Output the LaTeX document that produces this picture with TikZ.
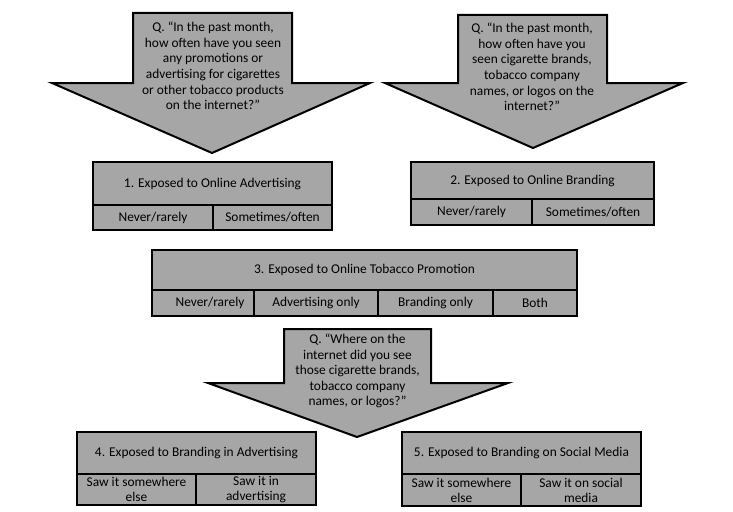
\documentclass[tikz,border=0pt]{standalone}
\usepackage{fontspec}
\setmainfont{Carlito}
\usepackage{tikz}
\usetikzlibrary{positioning}
\definecolor{BoxGray}{RGB}{166,166,166}

\begin{document}
\begin{tikzpicture}[x=1pt, y=-1pt,
          qarrow/.style={draw=black, line width=2pt, fill=BoxGray, line join=miter},
          qtext/.style={font=\fontsize{13.4}{15.6}\selectfont, align=center, inner sep=0pt},
          title/.style={draw=black, line width=2pt, fill=BoxGray, outer sep=0pt, inner sep=1pt,
                        font=\fontsize{13.4}{15}\selectfont, align=center, anchor=north west},
          cell/.style={title, anchor=north west}
        ]
        \useasboundingbox (0,0) rectangle (733,511);

        % Question arrow for advertising
        \draw[qarrow] (133,13) -- (292,13) -- (292,83) -- (370,83) -- (212,153)
              -- (52,83) -- (133,83) -- cycle;
        \node[qtext] (q1) at (213,66)
              {Q. “In the past month,\\how often have you seen\\any promotions or\\advertising for cigarettes\\or other tobacco products\\on the internet?”};

        % Question arrow for branding
        \draw[qarrow] (458,15) -- (607,15) -- (607,83) -- (683,83) -- (533,148)
              -- (385,83) -- (458,83) -- cycle;
        \node[qtext] (q2) at (532,67)
              {Q. “In the past month,\\how often have you\\seen cigarette brands,\\tobacco company\\names, or logos on the\\internet?”};

        % Box 1
        \node[title, minimum width=239pt, minimum height=43pt] (b1) at (93,162)
              {1. Exposed to Online Advertising};
        \node[cell, minimum width=120pt, minimum height=25pt] (b1a) at (b1.south west) {Never/rarely};
        \node[cell, minimum width=119pt, minimum height=25pt] (b1b) at (b1a.north east) {Sometimes/often};

        % Box 2
        \node[title, minimum width=243pt, minimum height=37pt] (b2) at (411,162)
              {2. Exposed to Online Branding};
        \node[cell, minimum width=121pt, minimum height=26pt] (b2a) at (b2.south west) {Never/rarely};
        \node[cell, minimum width=122pt, minimum height=26pt] (b2b) at (b2a.north east) {Sometimes/often};

        % Box 3
        \node[title, minimum width=425pt, minimum height=40pt] (b3) at (152,250)
              {3. Exposed to Online Tobacco Promotion};
        \node[cell, minimum width=102pt, minimum height=26pt] (b3a) at (b3.south west) {\hspace*{14pt}Never/rarely};
        \node[cell, minimum width=124pt, minimum height=26pt] (b3b) at (b3a.north east) {Advertising only};
        \node[cell, minimum width=115pt, minimum height=26pt] (b3c) at (b3b.north east) {Branding only};
        \node[cell, minimum width=84pt, minimum height=26pt] (b3d) at (b3c.north east) {Both};

        % Question arrow for where
        \draw[qarrow] (284,329) -- (431,329) -- (431,383) -- (508,383) -- (357,437)
              -- (208,383) -- (284,383) -- cycle;
        \node[qtext] (q3) at (357.5,371)
              {Q. “Where on the\\internet did you see\\those cigarette brands,\\tobacco company\\names, or logos?”};

        % Box 4
        \node[title, minimum width=239pt, minimum height=42pt] (b4) at (77,432)
              {4. Exposed to Branding in Advertising};
        \node[cell, minimum width=119pt, minimum height=31pt] (b4a) at (b4.south west) {Saw it somewhere\\else};
        \node[cell, minimum width=120pt, minimum height=31pt] (b4b) at (b4a.north east) {Saw it in\\advertising};

        % Box 5
        \node[title, minimum width=239pt, minimum height=42pt] (b5) at (402,432)
              {5. Exposed to Branding on Social Media};
        \node[cell, minimum width=119pt, minimum height=32pt] (b5a) at (b5.south west) {Saw it somewhere\\else};
        \node[cell, minimum width=120pt, minimum height=32pt] (b5b) at (b5a.north east) {Saw it on social\\media};
      \end{tikzpicture}
\end{document}
